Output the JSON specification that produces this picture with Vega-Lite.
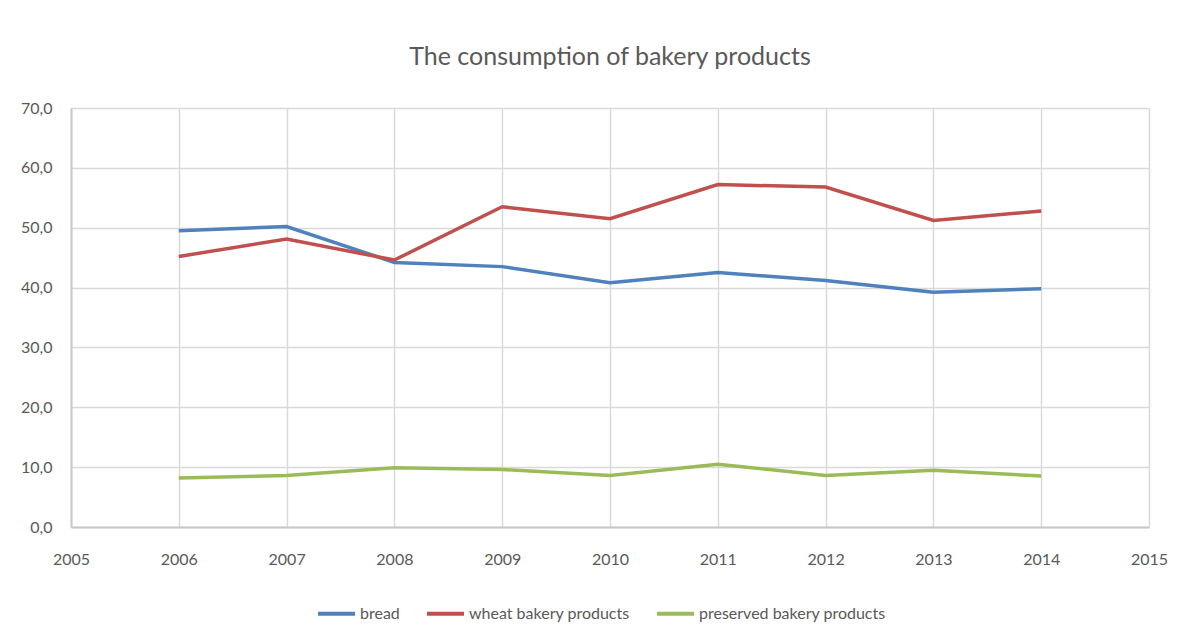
{
  "$schema": "https://vega.github.io/schema/vega-lite/v6.json",
  "autosize": {"type": "none"},
  "width": 1078,
  "height": 419,
  "padding": {"left": 71, "top": 108, "right": 34, "bottom": 115},
  "background": "white",
  "title": {
    "text": "The consumption of bakery products",
    "anchor": "middle",
    "frame": "group",
    "font": "Lato",
    "fontSize": 25,
    "fontWeight": 400,
    "color": "#595959",
    "offset": 30
  },
  "data": {
    "values": [
      {"year": 2006, "series": "bread", "value": 49.5},
      {"year": 2007, "series": "bread", "value": 50.2},
      {"year": 2008, "series": "bread", "value": 44.2},
      {"year": 2009, "series": "bread", "value": 43.5},
      {"year": 2010, "series": "bread", "value": 40.8},
      {"year": 2011, "series": "bread", "value": 42.5},
      {"year": 2012, "series": "bread", "value": 41.2},
      {"year": 2013, "series": "bread", "value": 39.2},
      {"year": 2014, "series": "bread", "value": 39.8},
      {"year": 2006, "series": "wheat bakery products", "value": 45.2},
      {"year": 2007, "series": "wheat bakery products", "value": 48.1},
      {"year": 2008, "series": "wheat bakery products", "value": 44.6},
      {"year": 2009, "series": "wheat bakery products", "value": 53.5},
      {"year": 2010, "series": "wheat bakery products", "value": 51.5},
      {"year": 2011, "series": "wheat bakery products", "value": 57.2},
      {"year": 2012, "series": "wheat bakery products", "value": 56.8},
      {"year": 2013, "series": "wheat bakery products", "value": 51.2},
      {"year": 2014, "series": "wheat bakery products", "value": 52.8},
      {"year": 2006, "series": "preserved bakery products", "value": 8.2},
      {"year": 2007, "series": "preserved bakery products", "value": 8.6},
      {"year": 2008, "series": "preserved bakery products", "value": 9.9},
      {"year": 2009, "series": "preserved bakery products", "value": 9.6},
      {"year": 2010, "series": "preserved bakery products", "value": 8.6},
      {"year": 2011, "series": "preserved bakery products", "value": 10.5},
      {"year": 2012, "series": "preserved bakery products", "value": 8.6},
      {"year": 2013, "series": "preserved bakery products", "value": 9.5},
      {"year": 2014, "series": "preserved bakery products", "value": 8.5}
    ]
  },
  "mark": {"type": "line", "strokeWidth": 3.5, "strokeCap": "butt", "strokeJoin": "miter"},
  "encoding": {
    "x": {
      "field": "year",
      "type": "quantitative",
      "scale": {"domain": [2005, 2015], "nice": false, "zero": false},
      "axis": {
        "title": null,
        "values": [2005, 2006, 2007, 2008, 2009, 2010, 2011, 2012, 2013, 2014, 2015],
        "format": "d",
        "ticks": false,
        "labelPadding": 24,
        "labelFlush": false
      }
    },
    "y": {
      "field": "value",
      "type": "quantitative",
      "scale": {"domain": [0, 70], "nice": false},
      "axis": {
        "title": null,
        "values": [0, 10, 20, 30, 40, 50, 60, 70],
        "labelExpr": "replace(format(datum.value, '.1f'), '.', ',')",
        "ticks": false,
        "labelPadding": 19
      }
    },
    "color": {
      "field": "series",
      "type": "nominal",
      "scale": {
        "domain": ["bread", "wheat bakery products", "preserved bakery products"],
        "range": ["#4F81BD", "#C0504D", "#9BBB59"]
      },
      "legend": {
        "title": null,
        "orient": "none",
        "legendX": 245,
        "legendY": 485,
        "direction": "horizontal",
        "symbolType": "stroke",
        "symbolSize": 1369,
        "symbolStrokeWidth": 4,
        "labelOffset": 3,
        "columnPadding": 19,
        "labelLimit": 0
      }
    }
  },
  "config": {
    "font": "Lato",
    "view": {"stroke": null},
    "axis": {
      "labelFont": "Lato",
      "labelFontSize": 16,
      "labelColor": "#595959",
      "gridColor": "#D9D9D9",
      "gridWidth": 1.5,
      "domainColor": "#C8C8C8",
      "domainWidth": 2
    },
    "legend": {
      "labelFont": "Lato",
      "labelFontSize": 16,
      "labelColor": "#595959"
    }
  }
}
